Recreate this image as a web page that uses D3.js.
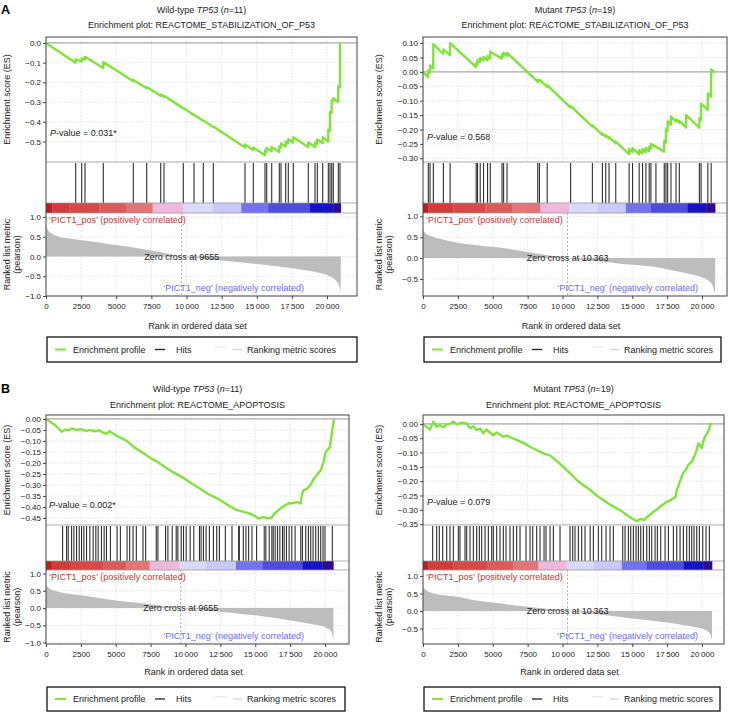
<!DOCTYPE html>
<html>
<head>
<meta charset="utf-8">
<script src="https://cdn.jsdelivr.net/npm/d3@7"></script>
<style>
  body { margin: 0; background: #fff; }
  svg { font-family: "Liberation Sans", Arial, sans-serif; }
</style>
</head>
<body>
<svg id="chart" width="731" height="712"></svg>
<script>
// ---- data ----
const rankTicks = [0, 2500, 5000, 7500, 10000, 12500, 15000, 17500, 20000];
const barColors = ['#bf1e1e', '#d33a3a', '#d84848', '#dc5a5a', '#e27676', '#eeb9da',
                   '#dadafc', '#c9c9fb', '#7373ef', '#4d4ddc', '#1414c6', '#2c0a8e'];

// A, wild-type, REACTOME_STABILIZATION_OF_P53
const wtStabEs = [[0,0],[2110,-0.100],[2114,-0.083],[2535,-0.093],[2541,-0.078],[2772,-0.085],[2776,-0.070],
  [4074,-0.127],[4078,-0.097],[6209,-0.195],[6213,-0.188],[7163,-0.230],[7167,-0.224],
  [8160,-0.268],[8164,-0.262],[8395,-0.273],[8399,-0.268],[9768,-0.332],[9772,-0.330],
  [10530,-0.366],[10534,-0.364],[11192,-0.395],[11196,-0.393],[11904,-0.427],[11908,-0.424],
  [14160,-0.530],[14164,-0.515],[14750,-0.543],[14754,-0.530],[15583,-0.570],[15587,-0.545],
  [15704,-0.551],[15708,-0.533],[16060,-0.550],[16064,-0.528],[16601,-0.553],[16605,-0.525],
  [16722,-0.531],[16726,-0.510],[17056,-0.525],[17060,-0.500],[17241,-0.509],[17245,-0.488],
  [17597,-0.505],[17601,-0.478],[18665,-0.528],[18669,-0.505],[19142,-0.528],[19146,-0.505],
  [19306,-0.513],[19310,-0.490],[19690,-0.508],[19694,-0.478],[20089,-0.500],[20093,-0.440],
  [20210,-0.446],[20214,-0.350],[20331,-0.355],[20335,-0.290],[20444,-0.295],[20448,-0.280],
  [20800,-0.300],[20804,-0.220],[20921,-0.225],[20925,0]];
const wtStabHits = [2114,2541,2776,4078,6213,7167,8164,8399,9772,10534,11196,11908,14164,14754,
  15587,15708,16064,16605,16726,17060,17245,17601,18669,19146,19310,19694,20093,20214,20335,
  20448,20804,20925];
const wtStabMetric = [[0,0.76],[150,0.66],[400,0.58],[900,0.50],[1800,0.45],[3000,0.39],[4500,0.31],
  [6000,0.24],[7500,0.15],[8700,0.07],[9655,0],[11000,-0.05],[12500,-0.10],[14000,-0.15],
  [15500,-0.21],[17000,-0.27],[18500,-0.35],[19500,-0.42],[20200,-0.50],[20600,-0.60],
  [20850,-0.72],[20980,-0.90]];
const wtStabBar = [0,450,1640,3790,5690,7590,9740,11880,13900,15810,18790,20450,20980];

// A, mutant, REACTOME_STABILIZATION_OF_P53
const mutStabEs = [[0,0],[370,-0.018],[381,0.005],[500,-0.002],[504,0.022],[735,0.012],[741,0.096],
  [1455,0.062],[1461,0.078],[1937,0.058],[1943,0.100],[3808,0.016],[3814,0.030],[3902,0.026],
  [3908,0.042],[4096,0.034],[4102,0.048],[4334,0.040],[4340,0.052],[4622,0.040],[4628,0.055],
  [4816,0.046],[4822,0.070],[5658,0.046],[5664,0.060],[5773,0.055],[5779,0.067],[6018,0.056],
  [6024,0.066],[8220,-0.034],[8226,-0.028],[8343,-0.034],[8349,-0.027],[8897,-0.052],[8903,-0.046],
  [10576,-0.124],[10582,-0.118],[12136,-0.190],[12142,-0.186],[12855,-0.219],[12861,-0.214],
  [13093,-0.225],[13099,-0.220],[13330,-0.231],[13336,-0.226],[13812,-0.248],[13818,-0.242],
  [14770,-0.286],[14776,-0.268],[15014,-0.279],[15020,-0.265],[15489,-0.287],[15495,-0.272],
  [15734,-0.283],[15740,-0.268],[15972,-0.279],[15978,-0.264],[16209,-0.275],[16215,-0.260],
  [16331,-0.266],[16337,-0.250],[17288,-0.277],[17294,-0.240],[17410,-0.245],[17416,-0.200],
  [17533,-0.205],[17539,-0.172],[17770,-0.183],[17776,-0.155],[18130,-0.172],[18136,-0.165],
  [18368,-0.176],[18374,-0.170],[18860,-0.193],[18866,-0.150],[19807,-0.194],[19813,-0.160],
  [19929,-0.166],[19935,-0.110],[20412,-0.132],[20418,-0.075],[20649,-0.086],[20655,0.008],
  [20940,-0.002]];
const mutStabHits = [381,504,741,1461,1943,3814,3908,4102,4340,4628,4822,5664,5779,6024,8226,8349,
  8903,10582,12142,12861,13099,13336,13818,14776,15020,15495,15740,15978,16215,16337,16697,
  17294,17416,17539,17776,18136,18374,19813,19935,20418,20655];
const mutStabMetric = [[0,0.68],[150,0.60],[480,0.54],[1200,0.46],[2400,0.37],[4000,0.30],
  [5760,0.24],[7000,0.17],[8150,0.11],[9300,0.05],[10363,0],[11500,-0.05],[12950,-0.09],
  [14500,-0.15],[16540,-0.21],[17800,-0.29],[18940,-0.37],[19800,-0.44],[20380,-0.52],
  [20750,-0.65],[20940,-0.86]];
const mutStabBar = [0,380,2180,4460,6380,8420,10460,12500,14540,16340,18980,20300,20940];

// B, wild-type, REACTOME_APOPTOSIS
const wtApopEs = [[0,0],[600,-0.025],[1120,-0.058],[1400,-0.048],[1600,-0.052],[1850,-0.044],
  [2200,-0.050],[2500,-0.046],[2900,-0.054],[3150,-0.050],[3500,-0.056],[3800,-0.052],
  [4100,-0.062],[4350,-0.068],[4550,-0.056],[4800,-0.066],[5300,-0.084],[5800,-0.100],
  [6300,-0.128],[7000,-0.156],[7500,-0.178],[8000,-0.196],[8600,-0.222],[9200,-0.245],
  [9700,-0.262],[10300,-0.288],[11000,-0.315],[11600,-0.340],[12300,-0.362],[13000,-0.390],
  [13600,-0.412],[13900,-0.418],[14300,-0.425],[14700,-0.432],[15000,-0.442],[15250,-0.452],
  [15600,-0.446],[15900,-0.452],[16150,-0.450],[16350,-0.432],[16600,-0.418],[16900,-0.402],
  [17150,-0.392],[17400,-0.384],[17700,-0.382],[18000,-0.378],[18250,-0.384],[18350,-0.345],
  [18450,-0.325],[18700,-0.318],[18950,-0.300],[19200,-0.272],[19450,-0.252],[19700,-0.232],
  [19900,-0.195],[20050,-0.150],[20200,-0.140],[20350,-0.128],[20450,-0.080],[20550,-0.040],
  [20650,0]];
const wtApopHits = [1190,1476,1595,1833,2000,2190,2381,2548,2714,2905,3143,3381,3571,3738,3976,
  4167,4333,4619,5095,5333,5810,6000,6238,6476,6952,7143,7905,8024,8571,8738,9048,9333,9452,
  9690,9857,10048,10333,10595,11000,11119,11286,11476,11714,12000,12238,12429,12857,13333,
  13810,13857,14143,14333,14524,14762,15095,15643,15762,16000,16190,16286,16429,16595,16762,
  16952,17071,17238,17429,17619,17857,18262,18381,18619,18810,18976,19143,19333,19524,19690,
  19857,20000,20524];
const wtApopMetric = [[0,0.66],[200,0.58],[700,0.49],[1500,0.42],[2500,0.37],[3700,0.30],
  [5000,0.22],[6500,0.15],[8000,0.08],[9655,0],[11000,-0.05],[12500,-0.11],[14000,-0.17],
  [15000,-0.21],[16300,-0.28],[17500,-0.36],[18700,-0.44],[19500,-0.50],[20100,-0.57],
  [20450,-0.68],[20600,-0.94]];
const wtApopBar = [0,405,1714,4095,5762,7429,9571,11476,13619,15524,18381,19810,20600];

// B, mutant, REACTOME_APOPTOSIS
const mutApopEs = [[0,0],[500,-0.020],[740,0.008],[980,-0.010],[1200,-0.004],[1460,-0.012],
  [1700,-0.002],[1940,0.000],[2180,0.008],[2450,-0.002],[2700,0.004],[3130,0.002],[3370,-0.015],
  [3600,-0.008],[3850,-0.022],[4100,-0.016],[4320,-0.033],[4550,-0.020],[4800,-0.030],
  [5040,-0.040],[5280,-0.030],[5760,-0.045],[6000,-0.040],[6400,-0.050],[6720,-0.056],
  [7200,-0.066],[7670,-0.080],[8150,-0.092],[8630,-0.103],[9100,-0.110],[9600,-0.130],
  [10060,-0.150],[10540,-0.172],[11020,-0.196],[11500,-0.214],[11970,-0.230],[12450,-0.250],
  [12930,-0.266],[13400,-0.282],[13890,-0.295],[14250,-0.305],[14600,-0.318],[15000,-0.330],
  [15320,-0.340],[15500,-0.334],[15680,-0.332],[15850,-0.336],[16040,-0.326],[16250,-0.318],
  [16510,-0.307],[16750,-0.300],[16990,-0.289],[17200,-0.282],[17470,-0.272],[17700,-0.268],
  [17950,-0.260],[18100,-0.256],[18190,-0.232],[18430,-0.200],[18660,-0.170],[18850,-0.160],
  [19020,-0.143],[19260,-0.132],[19500,-0.108],[19620,-0.090],[19740,-0.068],[19860,-0.075],
  [19980,-0.085],[20100,-0.060],[20220,-0.044],[20380,-0.033],[20500,-0.020],[20580,-0.003],
  [20700,0.002]];
const mutApopHits = [693,980,1171,1410,1697,1936,2175,2533,2653,3011,3131,3370,3609,3848,4039,
  4206,4445,4684,4923,5043,5282,5521,5760,5951,6238,6477,6716,6955,7385,7672,7863,8150,8389,
  8676,8819,9106,9345,9823,10540,10731,10898,11137,11376,11615,11984,12213,12571,12810,13121,
  13408,13647,14316,14483,14722,14890,15081,15272,15439,15607,15798,16037,16228,16395,16634,
  16802,17041,17351,17590,17949,18188,18427,18666,18905,19096,19263,19431,19622,19813,20052,
  20291,20530];
const mutApopMetric = [[0,0.69],[200,0.60],[700,0.51],[1500,0.45],[2500,0.41],[3700,0.31],
  [5000,0.24],[6700,0.16],[8500,0.08],[10363,0],[11800,-0.06],[13300,-0.13],[15000,-0.21],
  [16300,-0.27],[17500,-0.33],[18800,-0.41],[20000,-0.50],[20400,-0.58],[20600,-0.66],
  [20720,-0.83]];
const mutApopBar = [0,382,2175,4565,6477,8269,10300,12213,14244,16037,18666,20100,20720];

// ---- layout ----
const rowA = { top: 37, esBottom: 162, hitsBottom: 203, barBottom: 213, bottom: 296,
  t1: 10, t2: 25, xLabel: 326, legTop: 337, legBottom: 362 };
const rowB = { top: 415, esBottom: 525, hitsBottom: 561, barBottom: 570, bottom: 644,
  t1: 389, t2: 405, xLabel: 672, legTop: 687, legBottom: 711 };

const panels = [
  { row: rowA, left: 46, right: 357, xMax: 22135, legRight: 357, labelOff: 36,
    group: 'Wild-type', n: 11, set: 'REACTOME_STABILIZATION_OF_P53', pval: '0.031*', pvalPos: [50, 136],
    zero: 9655, es: wtStabEs, hits: wtStabHits, metric: wtStabMetric, bar: wtStabBar,
    esTicks: [0, -0.1, -0.2, -0.3, -0.4, -0.5], esFmt: '.1f', esDomain: [-0.604, 0.030],
    mTicks: [1, 0.5, 0, -0.5, -1], mDomain: [-1.0, 1.1], negX: 304, panelLabel: 'A' },
  { row: rowA, left: 423, right: 727, xMax: 21792, legRight: 721, labelOff: 41,
    group: 'Mutant', n: 19, set: 'REACTOME_STABILIZATION_OF_P53', pval: '0.568', pvalPos: [427, 140],
    zero: 10363, es: mutStabEs, hits: mutStabHits, metric: mutStabMetric, bar: mutStabBar,
    esTicks: [0.10, 0.05, 0, -0.05, -0.10, -0.15, -0.20, -0.25, -0.30], esFmt: '.2f', esDomain: [-0.313, 0.121],
    mTicks: [1, 0.5, 0, -0.5], mDomain: [-0.91, 1.08], negX: 698 },
  { row: rowB, left: 46, right: 349, xMax: 21720, legRight: 345, labelOff: 36,
    group: 'Wild-type', n: 11, set: 'REACTOME_APOPTOSIS', pval: '0.002*', pvalPos: [49, 508],
    zero: 9655, es: wtApopEs, hits: wtApopHits, metric: wtApopMetric, bar: wtApopBar,
    esTicks: [0, -0.05, -0.10, -0.15, -0.20, -0.25, -0.30, -0.35, -0.40, -0.45], esFmt: '.2f', esDomain: [-0.482, 0.018],
    mTicks: [1, 0.5, 0, -0.5, -1], mDomain: [-1.04, 1.10], negX: 304, panelLabel: 'B' },
  { row: rowB, left: 423, right: 724, xMax: 21577, legRight: 720, labelOff: 41,
    group: 'Mutant', n: 19, set: 'REACTOME_APOPTOSIS', pval: '0.079', pvalPos: [427, 505],
    zero: 10363, es: mutApopEs, hits: mutApopHits, metric: mutApopMetric, bar: mutApopBar,
    esTicks: [0, -0.05, -0.10, -0.15, -0.20, -0.25, -0.30, -0.35], esFmt: '.2f', esDomain: [-0.353, 0.031],
    mTicks: [1, 0.5, 0, -0.5], mDomain: [-0.94, 1.17], negX: 698 }
];

const svg = d3.select('#chart');
const rankFmt = d => d >= 10000 ? d3.format(',')(d).replace(',', '\u2009') : String(d);

function drawPanel(p) {
  const r = p.row;
  const g = svg.append('g');
  const x = d3.scaleLinear().domain([0, p.xMax]).range([p.left, p.right]);
  const yEs = d3.scaleLinear().domain(p.esDomain).range([r.esBottom, r.top]);
  const yM = d3.scaleLinear().domain(p.mDomain).range([r.bottom, r.barBottom]);
  const cx = (p.left + p.right) / 2;

  if (p.panelLabel) {
    g.append('text').attr('x', 1).attr('y', r.t1 + 4).attr('font-size', 12.5)
      .attr('font-weight', 'bold').text(p.panelLabel);
  }

  const t1 = g.append('text').attr('x', cx).attr('y', r.t1 + 3.2).attr('text-anchor', 'middle')
    .attr('font-size', 9).attr('fill', '#222');
  t1.append('tspan').text(p.group + ' ');
  t1.append('tspan').attr('font-style', 'italic').text('TP53');
  t1.append('tspan').text(' (');
  t1.append('tspan').attr('font-style', 'italic').text('n');
  t1.append('tspan').text('=' + p.n + ')');
  g.append('text').attr('x', cx).attr('y', r.t2 + 3.2).attr('text-anchor', 'middle')
    .attr('font-size', 9).attr('fill', '#222').text('Enrichment plot: ' + p.set);

  // grid
  const grid = g.append('g').attr('stroke', '#d8d8d8').attr('stroke-width', 0.7)
    .attr('stroke-dasharray', '1.5,1.5');
  rankTicks.forEach(t => {
    grid.append('line').attr('x1', x(t)).attr('x2', x(t)).attr('y1', r.top).attr('y2', r.esBottom);
    grid.append('line').attr('x1', x(t)).attr('x2', x(t)).attr('y1', r.barBottom).attr('y2', r.bottom);
  });
  p.esTicks.forEach(t => {
    grid.append('line').attr('x1', p.left).attr('x2', p.right).attr('y1', yEs(t)).attr('y2', yEs(t));
  });
  p.mTicks.forEach(t => {
    grid.append('line').attr('x1', p.left).attr('x2', p.right).attr('y1', yM(t)).attr('y2', yM(t));
  });

  // ES zero line and profile
  g.append('line').attr('x1', p.left).attr('x2', p.right).attr('y1', yEs(0)).attr('y2', yEs(0))
    .attr('stroke', '#aaa').attr('stroke-width', 1.2);
  g.append('path').datum(p.es)
    .attr('d', d3.line().x(d => x(d[0])).y(d => yEs(d[1])))
    .attr('fill', 'none').attr('stroke', '#80e33c').attr('stroke-width', 2.4)
    .attr('stroke-linejoin', 'round');

  // hits
  g.append('g').selectAll('line').data(p.hits).join('line')
    .attr('x1', d => x(d)).attr('x2', d => x(d))
    .attr('y1', r.esBottom + 1).attr('y2', r.hitsBottom)
    .attr('stroke', '#2e2e2e').attr('stroke-width', 1.1);

  // colour bar
  g.append('g').selectAll('rect').data(p.bar.slice(0, -1)).join('rect')
    .attr('x', d => x(d))
    .attr('width', (d, i) => x(p.bar[i + 1]) - x(d) + 0.3)
    .attr('y', r.hitsBottom).attr('height', r.barBottom - r.hitsBottom)
    .attr('fill', (d, i) => barColors[i]);

  // ranked list metric
  g.append('path').datum(p.metric)
    .attr('d', d3.area().x(d => x(d[0])).y0(yM(0)).y1(d => yM(d[1])).curve(d3.curveMonotoneX))
    .attr('fill', '#bdbdbd');
  g.append('line').attr('x1', x(p.zero)).attr('x2', x(p.zero))
    .attr('y1', r.barBottom).attr('y2', r.bottom)
    .attr('stroke', '#999').attr('stroke-width', 0.8).attr('stroke-dasharray', '2,2');

  // frame and separators
  [r.esBottom, r.hitsBottom, r.barBottom].forEach(yy => {
    g.append('line').attr('x1', p.left).attr('x2', p.right).attr('y1', yy).attr('y2', yy)
      .attr('stroke', '#9a9a9a').attr('stroke-width', 0.8);
  });
  g.append('rect').attr('x', p.left).attr('y', r.top)
    .attr('width', p.right - p.left).attr('height', r.bottom - r.top)
    .attr('fill', 'none').attr('stroke', '#444').attr('stroke-width', 1);

  // axes
  const styleAxis = a => {
    a.select('.domain').remove();
    a.selectAll('text').attr('font-size', 8).attr('fill', '#222')
      .attr('font-family', '"Liberation Sans", Arial, sans-serif');
    a.selectAll('line').attr('stroke', '#444');
  };
  g.append('g').attr('transform', `translate(${p.left},0)`)
    .call(d3.axisLeft(yEs).tickValues(p.esTicks).tickFormat(d3.format(p.esFmt)).tickSize(3).tickPadding(2))
    .call(styleAxis);
  g.append('g').attr('transform', `translate(${p.left},0)`)
    .call(d3.axisLeft(yM).tickValues(p.mTicks).tickFormat(d3.format('.1f')).tickSize(3).tickPadding(2))
    .call(styleAxis);
  g.append('g').attr('transform', `translate(0,${r.bottom})`)
    .call(d3.axisBottom(x).tickValues(rankTicks).tickFormat(rankFmt).tickSize(3).tickPadding(4))
    .call(styleAxis);

  // texts
  const pv = g.append('text').attr('x', p.pvalPos[0]).attr('y', p.pvalPos[1])
    .attr('font-size', 9).attr('fill', '#222');
  pv.append('tspan').attr('font-style', 'italic').text('P');
  pv.append('tspan').text('-value = ' + p.pval);

  g.append('text').attr('x', p.left + 3).attr('y', r.barBottom + 10)
    .attr('font-size', 9).attr('fill', '#c83434')
    .text('\u2018PICT1_pos\u2019 (positively correlated)');
  g.append('text').attr('x', p.negX).attr('y', r.bottom - 5).attr('text-anchor', 'end')
    .attr('font-size', 9).attr('fill', '#6b6bf0')
    .text('\u2018PICT1_neg\u2019 (negatively correlated)');
  g.append('text').attr('x', x(p.zero)).attr('y', yM(0) + 3.2).attr('text-anchor', 'middle')
    .attr('font-size', 9).attr('fill', '#222').text('Zero cross at ' + rankFmt(p.zero));

  g.append('text').attr('x', cx - 4).attr('y', r.xLabel + 3.2).attr('text-anchor', 'middle')
    .attr('font-size', 9).attr('fill', '#222').text('Rank in ordered data set');

  const esMid = (r.top + r.esBottom) / 2;
  g.append('text').attr('transform', `translate(${p.left - p.labelOff},${esMid}) rotate(-90)`)
    .attr('text-anchor', 'middle').attr('font-size', 9).attr('fill', '#222')
    .text('Enrichment score (ES)');
  const mMid = (r.barBottom + r.bottom) / 2;
  g.append('text').attr('transform', `translate(${p.left - p.labelOff},${mMid}) rotate(-90)`)
    .attr('text-anchor', 'middle').attr('font-size', 9).attr('fill', '#222')
    .text('Ranked list metric');
  g.append('text').attr('transform', `translate(${p.left - p.labelOff + 10},${mMid}) rotate(-90)`)
    .attr('text-anchor', 'middle').attr('font-size', 9).attr('fill', '#222')
    .text('(pearson)');

  // legend
  const lx = p.left + 1;
  const ly = (r.legTop + r.legBottom) / 2;
  g.append('rect').attr('x', lx).attr('y', r.legTop)
    .attr('width', p.legRight - lx).attr('height', r.legBottom - r.legTop)
    .attr('fill', '#fff').attr('stroke', '#111').attr('stroke-width', 1.3);
  g.append('line').attr('x1', lx + 8).attr('x2', lx + 19).attr('y1', ly).attr('y2', ly)
    .attr('stroke', '#80e33c').attr('stroke-width', 2);
  g.append('text').attr('x', lx + 26).attr('y', ly + 3.2).attr('font-size', 9).attr('fill', '#222')
    .text('Enrichment profile');
  g.append('line').attr('x1', lx + 108).attr('x2', lx + 118).attr('y1', ly).attr('y2', ly)
    .attr('stroke', '#222').attr('stroke-width', 1.3);
  g.append('text').attr('x', lx + 129).attr('y', ly + 3.2).attr('font-size', 9).attr('fill', '#222')
    .text('Hits');
  g.append('line').attr('x1', lx + 168).attr('x2', lx + 179).attr('y1', ly - 2.5).attr('y2', ly - 2.5)
    .attr('stroke', '#e6e6e6').attr('stroke-width', 1.2);
  g.append('line').attr('x1', lx + 186).attr('x2', lx + 195).attr('y1', ly).attr('y2', ly)
    .attr('stroke', '#d0d0d0').attr('stroke-width', 1.2);
  g.append('text').attr('x', lx + 200).attr('y', ly + 3.2).attr('font-size', 9).attr('fill', '#222')
    .text('Ranking metric scores');
}

panels.forEach(drawPanel);
</script>
</body>
</html>
